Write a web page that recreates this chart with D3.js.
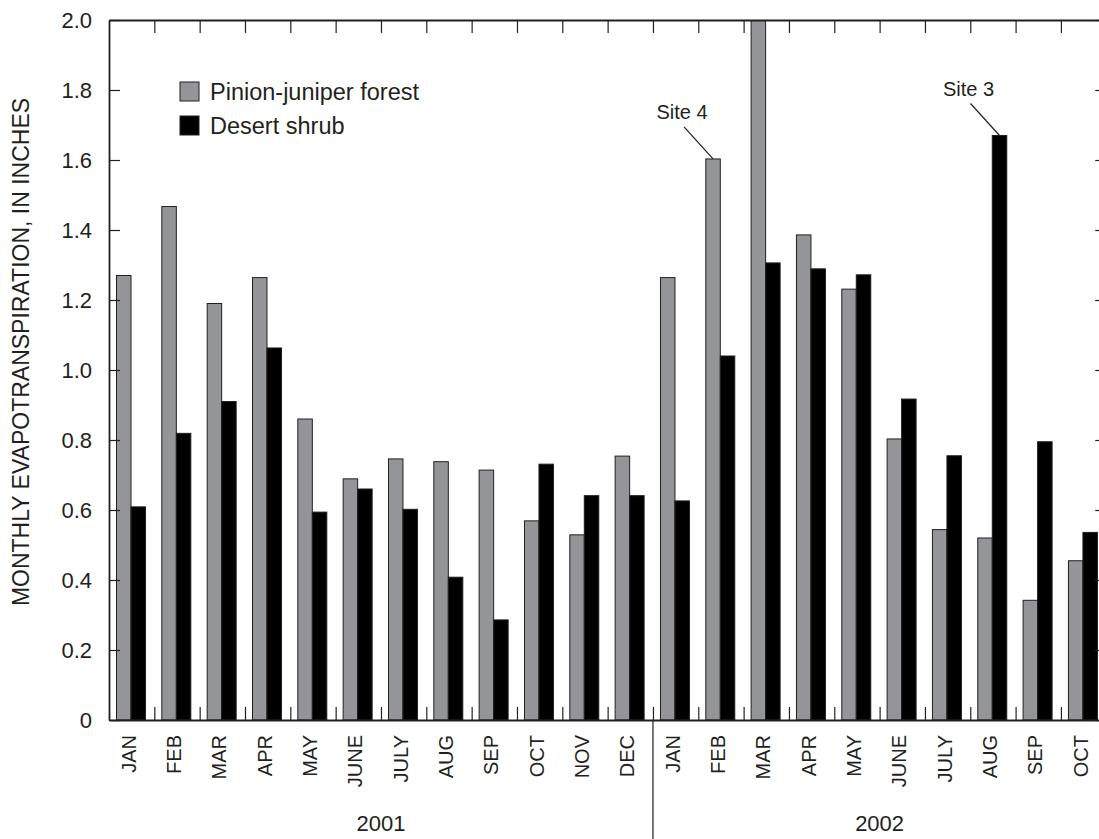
<!DOCTYPE html>
<html>
<head>
<meta charset="utf-8">
<script src="https://cdn.jsdelivr.net/npm/d3@7/dist/d3.min.js"></script>
<style>
  html, body { margin: 0; padding: 0; background: #fff; }
  svg { display: block; }
  text { font-family: "Liberation Sans", Arial, Helvetica, sans-serif; fill: #231f20; }
</style>
</head>
<body>
<svg id="chart" width="1099" height="839"></svg>
<script>
// ---- data ----
const months = ["JAN","FEB","MAR","APR","MAY","JUNE","JULY","AUG","SEP","OCT","NOV","DEC",
                "JAN","FEB","MAR","APR","MAY","JUNE","JULY","AUG","SEP","OCT"];
const years = ["2001","2002"];
const yearOfMonth = [0,0,0,0,0,0,0,0,0,0,0,0,1,1,1,1,1,1,1,1,1,1];
const seriesNames = ["Pinion-juniper forest","Desert shrub"];
const pinionJuniper = [1.27,1.467,1.19,1.264,0.86,0.689,0.746,0.738,0.714,0.569,0.529,0.754,
                       1.264,1.603,2.0,1.386,1.231,0.803,0.544,0.52,0.342,0.455];
const desertShrub   = [0.609,0.819,0.91,1.063,0.594,0.66,0.602,0.408,0.286,0.731,0.641,0.641,
                       0.626,1.04,1.306,1.289,1.272,0.917,0.755,1.67,0.795,0.536];
const yTicks = [0,0.2,0.4,0.6,0.8,1.0,1.2,1.4,1.6,1.8,2.0];
const yTickLabels = ["0","0.2","0.4","0.6","0.8","1.0","1.2","1.4","1.6","1.8","2.0"];
const yTitle = "MONTHLY EVAPOTRANSPIRATION, IN INCHES";
const annoIndex = [13, 19];
const annoSeries = [0, 1];
const annoText = ["Site 4", "Site 3"];

// ---- layout ----
const colors = ["#939598", "#000000"];
const ink = "#231f20";
const mLeft = 109, mTop = 20, mBottom = 720, bandW = 45.33;
const mRight = mLeft + months.length * bandW;

const svg = d3.select("#chart");
const idx = months.map((m, i) => i);
const x = d3.scaleBand().domain(idx).range([mLeft, mRight]).padding(0);
const xb = d3.scaleLinear().domain([0, months.length]).range([mLeft, mRight]);
const x1 = d3.scaleBand().domain([0, 1]).range([7.5, 36.5]).padding(0);
const y = d3.scaleLinear().domain([0, 2]).range([mBottom, mTop]);
const values = [pinionJuniper, desertShrub];

svg.append("defs").append("clipPath").attr("id", "plotclip")
  .append("rect").attr("x", mLeft).attr("y", mTop).attr("width", mRight - mLeft).attr("height", mBottom - mTop);

// bars
const g = svg.append("g").attr("clip-path", "url(#plotclip)");
values.forEach((vals, s) => {
  g.selectAll(".bar" + s).data(vals).enter().append("rect")
    .attr("class", "bar" + s)
    .attr("x", (d, i) => x(i) + x1(s))
    .attr("width", x1.bandwidth())
    .attr("y", d => y(Math.min(d, 2.0)))
    .attr("height", d => y(0) - y(Math.min(d, 2.0)))
    .attr("fill", colors[s])
    .attr("stroke", ink)
    .attr("stroke-width", 1);
});

// axes
const boundaries = d3.range(1, months.length);
function styleAxis(sel) {
  sel.selectAll("path.domain").attr("stroke", ink).attr("stroke-width", 1.8);
  sel.selectAll(".tick line").attr("stroke", ink).attr("stroke-width", 1.2);
}
const axL = svg.append("g").attr("transform", `translate(${mLeft},0)`)
  .call(d3.axisLeft(y).tickValues(yTicks).tickFormat((d, i) => yTickLabels[i])
        .tickSizeInner(-11).tickSizeOuter(0).tickPadding(17));
axL.selectAll(".tick text").attr("font-size", 22).attr("fill", ink)
  .attr("font-family", '"Liberation Sans", Arial, sans-serif');
styleAxis(axL);

const axR = svg.append("g").attr("transform", `translate(${mRight},0)`)
  .call(d3.axisRight(y).tickValues(yTicks).tickFormat("").tickSizeInner(-11).tickSizeOuter(0));
styleAxis(axR);

const axT = svg.append("g").attr("transform", `translate(0,${mTop})`)
  .call(d3.axisTop(xb).tickValues(boundaries).tickFormat("").tickSizeInner(-13).tickSizeOuter(0));
styleAxis(axT);

const axB = svg.append("g").attr("transform", `translate(0,${mBottom})`)
  .call(d3.axisBottom(xb).tickValues(boundaries).tickFormat("").tickSizeInner(-13).tickSizeOuter(0));
styleAxis(axB);

// year divider
svg.append("line")
  .attr("x1", xb(12)).attr("x2", xb(12))
  .attr("y1", mBottom).attr("y2", 839)
  .attr("stroke", ink).attr("stroke-width", 1.2);

// month labels
svg.selectAll(".mlab").data(months).enter().append("text")
  .attr("class", "mlab")
  .attr("transform", (d, i) => `translate(${x(i) + x.bandwidth() / 2 + 4},735) rotate(-90)`)
  .attr("text-anchor", "end")
  .attr("font-size", 20)
  .text(d => d);

// year labels
years.forEach((yr, k) => {
  const ids = idx.filter(i => yearOfMonth[i] === k);
  const cx = (xb(ids[0]) + xb(ids[ids.length - 1] + 1)) / 2;
  svg.append("text").attr("x", cx).attr("y", 831)
    .attr("text-anchor", "middle").attr("font-size", 22).text(yr);
});

// y title
svg.append("text")
  .attr("transform", `translate(29,352) rotate(-90)`)
  .attr("text-anchor", "middle")
  .attr("font-size", 23)
  .text(yTitle);

// legend
seriesNames.forEach((name, s) => {
  const ly = 82 + s * 34;
  svg.append("rect").attr("x", 180).attr("y", ly).attr("width", 19).attr("height", 19)
    .attr("fill", colors[s]).attr("stroke", ink).attr("stroke-width", 1);
  svg.append("text").attr("x", 210).attr("y", ly + 18).attr("font-size", 23.5).text(name);
});

// annotations
annoIndex.forEach((mi, k) => {
  const s = annoSeries[k];
  const bx = x(mi) + x1(s) + x1.bandwidth() / 2;
  const by = y(values[s][mi]);
  svg.append("line")
    .attr("x1", bx - 29).attr("y1", by - 32)
    .attr("x2", bx).attr("y2", by)
    .attr("stroke", ink).attr("stroke-width", 1.2);
  svg.append("text").attr("x", bx - 31).attr("y", by - 40)
    .attr("text-anchor", "middle").attr("font-size", 20).text(annoText[k]);
});
</script>
</body>
</html>
